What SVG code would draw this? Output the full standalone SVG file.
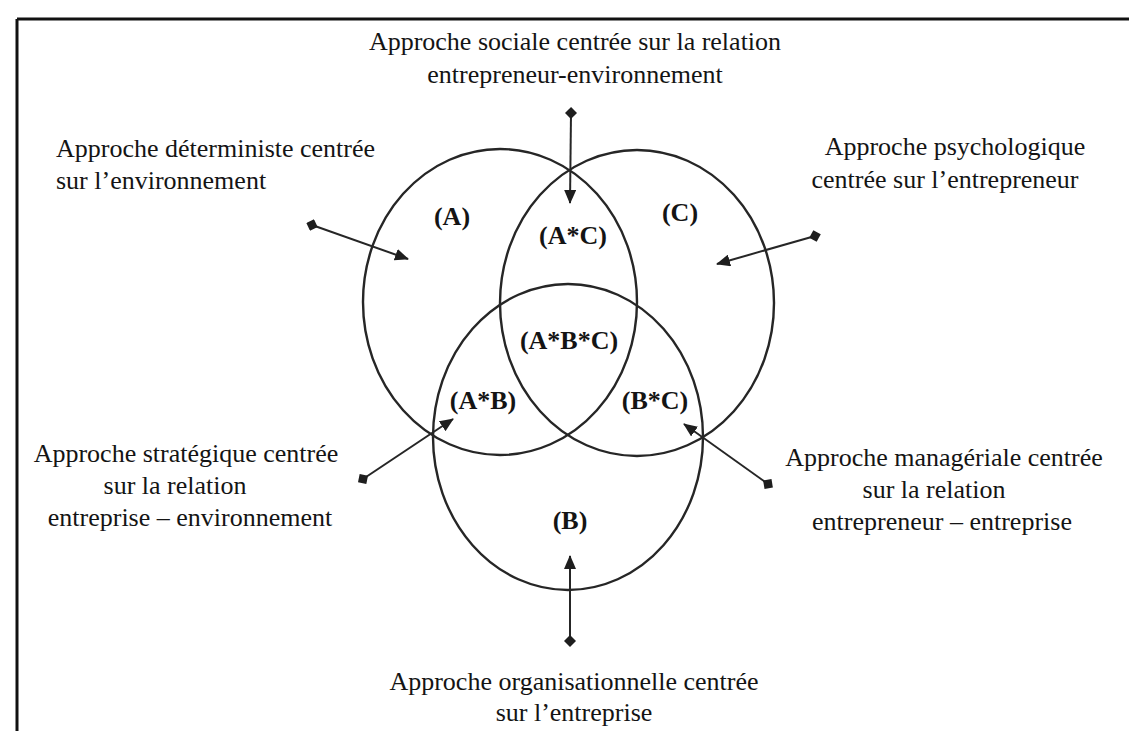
<svg xmlns="http://www.w3.org/2000/svg" width="1129" height="731" viewBox="0 0 1129 731">
<style>
.t{font-family:"Liberation Serif","Times New Roman",serif;font-size:26px;fill:#141414}
.c{text-anchor:middle}
.lb{font-family:"Liberation Serif","Times New Roman",serif;font-size:26px;font-weight:bold;fill:#141414;text-anchor:middle}
.ring{fill:none;stroke:#262626;stroke-width:2.4}
.ar{stroke:#262626;stroke-width:2;fill:none;marker-start:url(#dia);marker-end:url(#tri)}
</style>
<defs>
<marker id="tri" viewBox="0 0 14 12" refX="13" refY="6" markerWidth="14" markerHeight="12" markerUnits="userSpaceOnUse" orient="auto">
<path d="M0,0 L14,6 L0,12 Z" fill="#1e1e1e"/>
</marker>
<marker id="dia" viewBox="0 0 12 12" refX="6" refY="6" markerWidth="12" markerHeight="12" markerUnits="userSpaceOnUse" orient="auto">
<path d="M6,0 L12,6 L6,12 L0,6 Z" fill="#1e1e1e"/>
</marker>
</defs>
<rect width="1129" height="731" fill="#fff"/>
<g id="frame" stroke="#111" stroke-width="3" fill="none">
<line x1="17" y1="19" x2="1129" y2="19"/>
<line x1="17" y1="19" x2="17" y2="731"/>
</g>
<g id="circle-A"><ellipse class="ring" cx="500" cy="302" rx="137" ry="153"/><text class="lb" x="452" y="225">(A)</text></g>
<g id="circle-C"><ellipse class="ring" cx="637" cy="303" rx="137" ry="153"/><text class="lb" x="680" y="221">(C)</text></g>
<g id="circle-B"><ellipse class="ring" cx="568" cy="437" rx="135" ry="153"/><text class="lb" x="570" y="529">(B)</text></g>
<g id="region-AC"><text class="lb" x="573" y="244">(A*C)</text></g>
<g id="region-ABC"><text class="lb" x="569" y="349">(A*B*C)</text></g>
<g id="region-AB"><text class="lb" x="483" y="409">(A*B)</text></g>
<g id="region-BC"><text class="lb" x="655" y="409">(B*C)</text></g>
<g id="connectors">
<line class="ar" x1="571" y1="113" x2="570" y2="203"/>
<line class="ar" x1="312" y1="225" x2="408" y2="259"/>
<line class="ar" x1="815" y1="236" x2="717" y2="264"/>
<line class="ar" x1="363" y1="479" x2="453" y2="419"/>
<line class="ar" x1="768" y1="484" x2="684" y2="424"/>
<line class="ar" x1="570" y1="641" x2="570" y2="556"/>
</g>
<g id="label-sociale"><text class="t c" x="575" y="50">Approche sociale centrée sur la relation</text><text class="t c" x="575" y="83">entrepreneur-environnement</text></g>
<g id="label-deterministe"><text class="t" x="56" y="157">Approche déterministe centrée</text><text class="t" x="56" y="189">sur l’environnement</text></g>
<g id="label-psychologique"><text class="t c" x="955" y="155">Approche psychologique</text><text class="t c" x="945" y="188">centrée sur l’entrepreneur</text></g>
<g id="label-strategique"><text class="t c" x="186" y="462">Approche stratégique centrée</text><text class="t c" x="175" y="494">sur la relation</text><text class="t c" x="190" y="526">entreprise – environnement</text></g>
<g id="label-manageriale"><text class="t c" x="944" y="466">Approche managériale centrée</text><text class="t c" x="934" y="498">sur la relation</text><text class="t c" x="942" y="530">entrepreneur – entreprise</text></g>
<g id="label-organisationnelle"><text class="t c" x="574" y="690">Approche organisationnelle centrée</text><text class="t c" x="574" y="721">sur l’entreprise</text></g>
</svg>
